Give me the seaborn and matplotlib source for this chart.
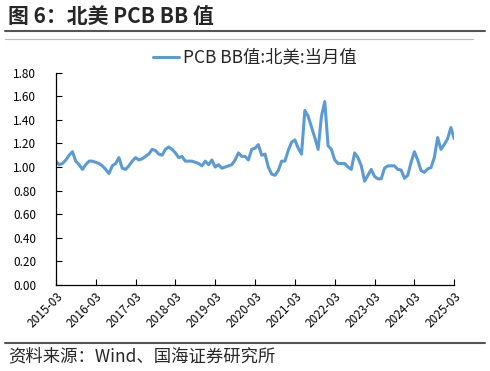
import numpy as np
import pandas as pd
import matplotlib
matplotlib.use("Agg")
import matplotlib.pyplot as plt
import seaborn as sns

# ---- data (monthly, 2015-03 .. 2025-03) ----
bb_values = [
    1.05, 1.02, 1.03, 1.06, 1.10, 1.13, 1.05, 1.02, 0.98, 1.02, 1.05, 1.05,   # 2015-03..2016-02
    1.04, 1.03, 1.01, 0.98, 0.945, 1.01, 1.03, 1.08, 0.99, 0.98, 1.01, 1.05,  # 2016-03..2017-02
    1.08, 1.06, 1.07, 1.09, 1.11, 1.15, 1.14, 1.11, 1.10, 1.15, 1.17, 1.15,   # 2017-03..2018-02
    1.12, 1.08, 1.09, 1.05, 1.05, 1.05, 1.04, 1.03, 1.01, 1.05, 1.02, 1.06,   # 2018-03..2019-02
    1.00, 1.02, 0.99, 1.00, 1.01, 1.02, 1.06, 1.12, 1.09, 1.09, 1.06, 1.15,   # 2019-03..2020-02
    1.16, 1.19, 1.10, 1.11, 1.00, 0.94, 0.93, 0.97, 1.05, 1.05, 1.14, 1.21,   # 2020-03..2021-02
    1.23, 1.16, 1.11, 1.48, 1.43, 1.34, 1.25, 1.15, 1.43, 1.555, 1.18, 1.15,  # 2021-03..2022-02
    1.06, 1.03, 1.03, 1.03, 1.00, 0.98, 1.12, 1.08, 1.01, 0.88, 0.93, 0.98,   # 2022-03..2023-02
    0.92, 0.90, 0.90, 0.99, 1.01, 1.01, 1.01, 0.98, 0.975, 0.905, 0.93, 1.04, # 2023-03..2024-02
    1.13, 1.06, 0.97, 0.955, 0.985, 0.995, 1.08, 1.25, 1.15, 1.19, 1.24, 1.335, # 2024-03..2025-02
    1.24,                                                                     # 2025-03
]
month_index = list(range(len(bb_values)))
tick_labels = ["2015-03", "2016-03", "2017-03", "2018-03", "2019-03", "2020-03",
               "2021-03", "2022-03", "2023-03", "2024-03", "2025-03"]
y_ticks = [0.0, 0.2, 0.4, 0.6, 0.8, 1.0, 1.2, 1.4, 1.6, 1.8]
series_name = "PCB BB值:北美:当月值"
title_text = "图 6：北美 PCB BB 值"
source_text = "资料来源：Wind、国海证券研究所"

df = pd.DataFrame({"month": month_index, "value": bb_values, "series": series_name})

sns.set_theme(style="white")
plt.rcParams["font.family"] = ["Noto Sans CJK SC", "DejaVu Sans"]
plt.rcParams["axes.unicode_minus"] = False

fig = plt.figure(figsize=(4.9, 3.71), dpi=100)
ax = fig.add_axes([0.114, 0.232, 0.813, 0.572])

sns.lineplot(data=df, x="month", y="value", hue="series", palette=["#5B9BD5"],
             linewidth=2.2, ax=ax, legend=True)

ax.set_xlim(0, 120)
ax.set_ylim(0, 1.8)
ax.set_xticks(list(range(0, 121, 12)))
ax.set_xticklabels(tick_labels, rotation=45, ha="right", rotation_mode="anchor", fontsize=8.5)
ax.set_yticks(y_ticks)
ax.set_yticklabels([f"{v:.2f}" for v in y_ticks], fontsize=8.5)
ax.set_xlabel("")
ax.set_ylabel("")

for side in ["top", "right"]:
    ax.spines[side].set_visible(False)
for side in ["left", "bottom"]:
    ax.spines[side].set_color("#000000")
    ax.spines[side].set_linewidth(0.9)
ax.tick_params(axis="both", direction="in", length=4, width=0.8, color="#000000",
               left=True, bottom=True, labelcolor="#000000", pad=4)
ax.tick_params(axis="y", pad=14)

leg = ax.legend(loc="center", bbox_to_anchor=(0.5, 1.07), frameon=False,
                fontsize=12.5, handlelength=1.5, handletextpad=0.2, borderaxespad=0)

# title and decorations
fig.text(0.016, 0.957, title_text, fontsize=15, fontweight="bold", ha="left", va="center")
fig.add_artist(plt.Line2D([0.01, 0.99], [0.916, 0.916], color="#555555", linewidth=1.5,
                          transform=fig.transFigure))
fig.add_artist(plt.Line2D([0.01, 0.965], [0.896, 0.896], color="#bbbbbb", linewidth=0.8,
                          transform=fig.transFigure))
fig.add_artist(plt.Line2D([0.01, 0.99], [0.076, 0.076], color="#555555", linewidth=1.5,
                          transform=fig.transFigure))
fig.text(0.016, 0.04, source_text, fontsize=12.5, ha="left", va="center")

fig.savefig("out.png", dpi=100)
